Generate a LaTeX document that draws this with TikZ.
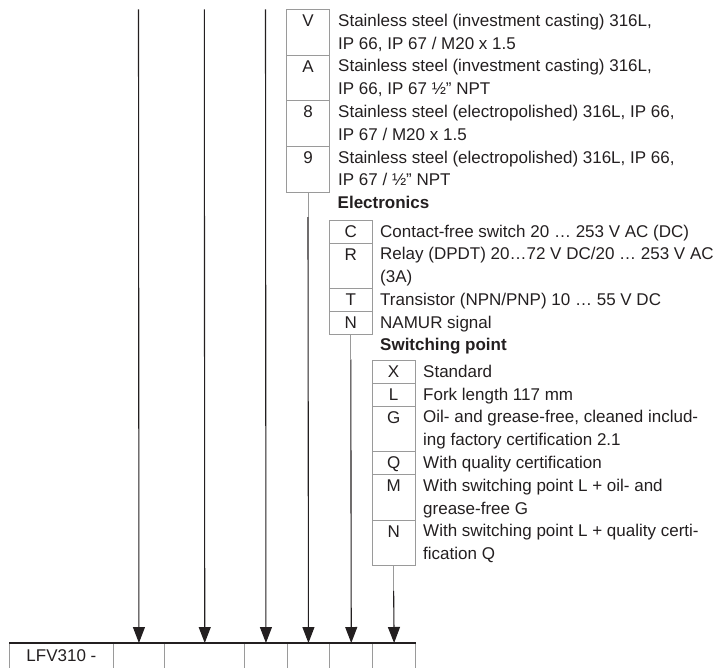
\documentclass[tikz,border=0pt]{standalone}
\usepackage{fontspec}
\setmainfont{Liberation Sans}
\usetikzlibrary{arrows.meta}
\definecolor{ink}{HTML}{231F20}
\definecolor{rulegray}{HTML}{9A9A9A}
\newcommand\firstln{\rule{0pt}{16.8pt}}
\begin{document}
\begin{tikzpicture}[x=1pt,y=-1pt,
  every node/.style={text=ink, font=\fontsize{17}{22.8}\selectfont},
  codebox/.style={draw=rulegray, line width=0.9pt, inner sep=0pt, text height=16.8pt, anchor=north},
  oneline/.style={text depth=6pt},
  twoline/.style={text depth=28.8pt},
  desc/.style={anchor=north west, inner sep=0pt, align=left},
  head/.style={anchor=base west, inner sep=0pt, font=\fontsize{17}{22.8}\selectfont\bfseries},
  cell/.style={draw=rulegray, line width=0.9pt, anchor=north west, inner sep=0pt, text height=18pt, text depth=40pt},
  inkline/.style={draw=ink, line width=1.1pt},
  arr/.style={inkline, -{Triangle[length=16pt,width=12pt]}},
  feed/.style={draw=rulegray, line width=0.9pt}
]
\useasboundingbox (0,0) rectangle (714,668);
\clip (0,0) rectangle (714,668);

% housing
\node[codebox,twoline,minimum width=42.6pt] (cV) at (308,9.3) {V};
\node[codebox,twoline,minimum width=42.6pt] (cA) at (308,54.9) {A};
\node[codebox,twoline,minimum width=42.6pt] (c8) at (308,100.5) {8};
\node[codebox,twoline,minimum width=42.6pt] (c9) at (308,146.1) {9};
\node[desc] (dV) at (338,9.3) {\firstln Stainless steel (investment casting) 316L,\\IP 66, IP 67 / M20 x 1.5};
\node[desc] (dA) at (338,54.9) {\firstln Stainless steel (investment casting) 316L,\\IP 66, IP 67 ½" NPT};
\node[desc] (d8) at (338,100.5) {\firstln Stainless steel (electropolished) 316L, IP 66,\\IP 67 / M20 x 1.5};
\node[desc] (d9) at (338,146.1) {\firstln Stainless steel (electropolished) 316L, IP 66,\\IP 67 / ½" NPT};

% electronics
\node[head] (hE) at (337.5,208.6) {Electronics};
\node[codebox,oneline,minimum width=43pt] (eC) at (350.8,220) {C};
\node[codebox,twoline,minimum width=43pt] (eR) at (350.8,242.8) {R};
\node[codebox,oneline,minimum width=43pt] (eT) at (350.8,288.4) {T};
\node[codebox,oneline,minimum width=43pt] (eN) at (350.8,311.2) {N};
\node[desc] (deC) at (380,220) {\firstln Contact-free switch 20 … 253 V AC (DC)};
\node[desc] (deR) at (380,242.8) {\firstln Relay (DPDT) 20…72 V DC/20 … 253 V AC\\(3A)};
\node[desc] (deT) at (380,288.4) {\firstln Transistor (NPN/PNP) 10 … 55 V DC};
\node[desc] (deN) at (380,311.2) {\firstln NAMUR signal};

% switching point
\node[head] (hS) at (380,350.6) {Switching point};
\node[codebox,oneline,minimum width=42.7pt] (sX) at (393.65,360.2) {X};
\node[codebox,oneline,minimum width=42.7pt] (sL) at (393.65,383) {L};
\node[codebox,twoline,minimum width=42.7pt] (sG) at (393.65,405.8) {G};
\node[codebox,oneline,minimum width=42.7pt] (sQ) at (393.65,451.4) {Q};
\node[codebox,twoline,minimum width=42.7pt] (sM) at (393.65,474.2) {M};
\node[codebox,twoline,minimum width=42.7pt] (sN) at (393.65,519.8) {N};
\node[desc] (dsX) at (423,360.2) {\firstln Standard};
\node[desc] (dsL) at (423,383) {\firstln Fork length 117 mm};
\node[desc] (dsG) at (423,405.8) {\firstln Oil- and grease-free, cleaned includ-\\ing factory certification 2.1};
\node[desc] (dsQ) at (423,451.4) {\firstln With quality certification};
\node[desc] (dsM) at (423,474.2) {\firstln With switching point L + oil- and\\grease-free G};
\node[desc] (dsN) at (423,519.8) {\firstln With switching point L + quality certi-\\fication Q};

% type code table
\node[cell,minimum width=103.4pt] (k0) at (9.3,643) {LFV310 -};
\node[cell,minimum width=51.6pt] (k1) at (112.7,643) {};
\node[cell,minimum width=80pt] (k2) at (164.3,643) {};
\node[cell,minimum width=42.4pt] (k3) at (244.3,643) {};
\node[cell,minimum width=42.6pt] (k4) at (286.7,643) {};
\node[cell,minimum width=43pt] (k5) at (329.3,643) {};
\node[cell,minimum width=42.7pt] (k6) at (372.3,643) {};
\draw[inkline] (k0.north west) -- (k6.north east);

% connectors
\coordinate (s1) at (138.5,9.3);
\coordinate (s2) at (204.3,9.3);
\coordinate (s3) at (265.5,9.3);
\path (c9.south) ++(0,24.5) coordinate (f1);
\path (eN.south) ++(0,24.5) coordinate (f2);
\path (sN.south) ++(0,24.5) coordinate (f3);
\draw[feed] (c9.south) -- (f1);
\draw[feed] (eN.south) -- (f2);
\draw[feed] (sN.south) -- (f3);
\draw[arr] (s1) -- (k1.north);
\draw[arr] (s2) -- (k2.north);
\draw[arr] (s3) -- (k3.north);
\draw[arr] (f1) -- (k4.north);
\draw[arr] (f2) -- (k5.north);
\draw[arr] (f3) -- (k6.north);
\end{tikzpicture}
\end{document}
